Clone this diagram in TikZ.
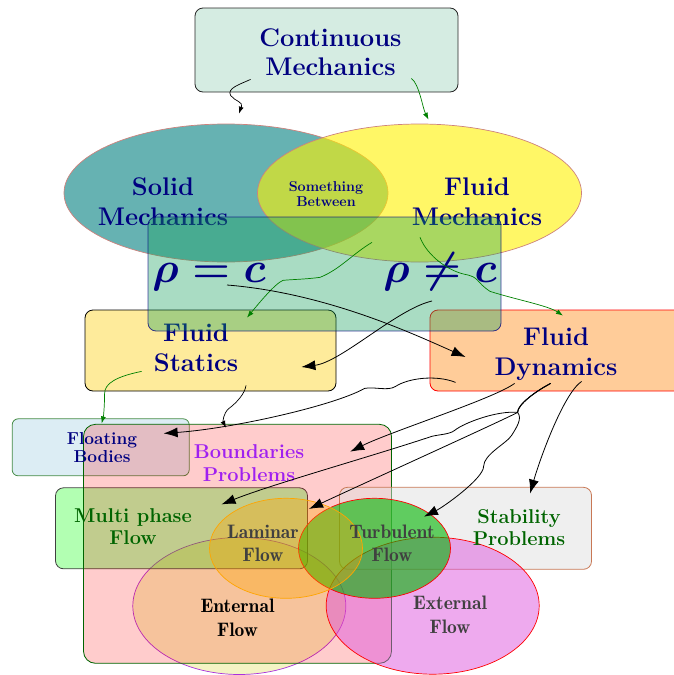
\RequirePackage{fix-cm}
\documentclass[tikz,border=0pt]{standalone}
\usetikzlibrary{shapes.geometric,arrows.meta}

\definecolor{navy}{rgb}{0,0,0.5}
\definecolor{cmfill}{RGB}{213,236,226}
\definecolor{rhofill}{RGB}{23,160,91}
\definecolor{statfill}{RGB}{254,235,155}
\definecolor{flofill}{RGB}{220,237,244}
\definecolor{floline}{RGB}{70,140,70}
\definecolor{ovalline}{RGB}{205,130,125}
\definecolor{stabline}{RGB}{200,120,85}
\definecolor{entfill}{RGB}{244,244,196}
\definecolor{entline}{RGB}{170,50,220}
\definecolor{extfill}{RGB}{221,85,221}
\definecolor{turbfill}{RGB}{0,180,0}
\definecolor{lamorange}{RGB}{255,165,0}
\definecolor{bndtext}{RGB}{160,32,240}
\definecolor{darkgreen}{RGB}{0,100,0}

\begin{document}
\begin{tikzpicture}[x=1pt,y=-1pt,>={Latex[length=14pt,width=10pt]},
  box/.style={draw, rounded corners=8pt, line width=0.8pt, inner sep=0pt},
  oval/.style={ellipse, draw, line width=0.7pt, inner sep=0pt},
  bigtxt/.style={align=center, inner sep=0pt, text=navy, font=\fontsize{25.5}{30}\selectfont\bfseries},
  midtxt/.style={align=center, inner sep=0pt, font=\fontsize{20}{22}\selectfont\bfseries},
  flowtxt/.style={align=center, inner sep=0pt, text=black!75, font=\fontsize{19.5}{23.5}\selectfont\fontseries{b}\selectfont},
  rho/.style={inner sep=0pt, text=navy, font=\fontsize{43}{50}\selectfont\boldmath},
  link/.style={line width=0.8pt, ->},
  twig/.style={line width=0.7pt, -{Latex[length=7pt,width=5pt]}}]
\useasboundingbox (0,0) rectangle (673,675);

% top
\node[box, fill=cmfill, draw=black!85, minimum width=263pt, minimum height=84pt] (cmbox) at (326.5,50) {};
\node[bigtxt, font=\fontsize{25.5}{28.5}\selectfont\bfseries] (cmtext) at (330.5,52) {Continuous\\Mechanics};

% solid and fluid
\node[oval, fill=teal!60, draw=ovalline, minimum width=324pt, minimum height=138pt] (solid) at (226,193) {};
\node[oval, fill=yellow, fill opacity=.6, draw=ovalline, minimum width=324pt, minimum height=138pt] (fluid) at (419.5,193) {};
\node[bigtxt] (solidtxt) at (163,202) {Solid\\Mechanics};
\node[bigtxt] (fluidtxt) at (477,202) {Fluid\\Mechanics};
\node[bigtxt, font=\fontsize{14.3}{14.5}\selectfont\bfseries] (between) at (326,194) {Something\\Between};

% statics and dynamics
\node[box, fill=statfill, draw=black, minimum width=251pt, minimum height=81pt] (statics) at (210.5,350.5) {};
\node[box, fill=orange!40, draw=red, minimum width=270pt, minimum height=81pt] (dynamics) at (565,350.5) {};
\node[bigtxt] (stattxt) at (196,348) {Fluid\\Statics};
\node[bigtxt] (dyntxt) at (556,354) {Fluid\\Dynamics};

% density
\node[box, fill=rhofill, fill opacity=.37, draw=navy, draw opacity=.75, minimum width=353pt, minimum height=114pt] (rhobox) at (324.5,274) {};
\node[rho, anchor=base] (rhoeq) at (209,282) {$\rho = c$};
\node[rho, anchor=base] (rhone) at (440,282) {$\rho \neq c$};

% lower part
\node[oval, fill=entfill, draw=entline, minimum width=213pt, minimum height=137pt] (enternal) at (239.3,606) {};
\node[box, rounded corners=6pt, fill=flofill, draw=floline, minimum width=177pt, minimum height=57pt] (floating) at (100.7,447.3) {};
\node[box, fill=green, fill opacity=.3, draw=black!75, minimum width=252pt, minimum height=81pt] (multi) at (181.5,528.3) {};
\node[box, rounded corners=12pt, fill=red, fill opacity=.2, draw=darkgreen, minimum width=308pt, minimum height=239pt] (boundary) at (237.5,543.8) {};
\node[box, fill=black!12, fill opacity=.5, draw=stabline, minimum width=252pt, minimum height=82pt] (stability) at (465.5,528.3) {};
\node[oval, fill=extfill, fill opacity=.5, draw=red, minimum width=213pt, minimum height=137pt] (external) at (432.7,605.7) {};
\node[oval, fill=turbfill, fill opacity=.6, draw=red, minimum width=152pt, minimum height=100pt] (turbulent) at (374.5,548.3) {};
\node[oval, fill=lamorange, fill opacity=.35, draw=lamorange, minimum width=153pt, minimum height=100pt] (laminar) at (286,548.3) {};

\node[midtxt, text=navy, font=\fontsize{17.3}{18}\selectfont\bfseries] (flotxt) at (102,447.5) {Floating\\Bodies};
\node[midtxt, text=bndtext, font=\fontsize{20}{23}\selectfont\bfseries] (bndtxt) at (249,463.6) {Boundaries\\Problems};
\node[midtxt, text=darkgreen] (multxt) at (133,527) {Multi phase\\Flow};
\node[midtxt, text=darkgreen, font=\fontsize{20}{21.5}\selectfont\bfseries] (stabtxt) at (519,527.5) {Stability\\Problems};
\node[flowtxt] (lamtxt) at (263,543.3) {Laminar\\Flow};
\node[flowtxt] (turbtxt) at (392,543.3) {Turbulent\\Flow};
\node[flowtxt, text=black] (entxt) at (237.5,617.8) {Enternal\\Flow};
\node[flowtxt] (extxt) at (450,614.7) {External\\Flow};

% arrows
\draw[twig] ([shift={(56,-13)}]cmbox.south west) .. controls +(-11,5) and +(-4,-7) .. ++(-20,16) .. controls +(4,6) and +(2,-6) .. ++(11,12) .. controls +(-1,3) and +(1,-3) .. ([shift={(13,-10)}]solid.north);
\draw[twig, green!50!black] ([shift={(-47,-14)}]cmbox.south east) .. controls +(8,6) and +(-6,-12) .. ([shift={(9,-4)}]fluid.north);
\draw[twig, green!50!black] ([shift={(-47.5,-20)}]fluid.south) .. controls +(-20,12) and +(20,-8) .. ++(-52,35) .. controls +(-15,2) and +(10,-1) .. ++(-37,3) .. controls +(-8,3) and +(10,-12) .. ([shift={(36.5,8)}]statics.north);
\draw[twig, green!50!black] ([shift={(0.5,-25)}]fluid.south) .. controls +(8,20) and +(-15,-3) .. ++(45,37) .. controls +(15,3) and +(-15,-10) .. ++(25,17) .. controls +(25,8) and +(-15,-10) .. ([shift={(-2,6)}]dynamics.north);
\draw[link] ([shift={(18,3)}]rhoeq.base) .. controls +(100,8) and +(-50,-22) .. ([shift={(36,6.5)}]dynamics.west);
\draw[link] ([shift={(-8,19)}]rhone.base) .. controls +(-35,8) and +(40,-5) .. ([shift={(-35,16.5)}]statics.east);
\draw[twig, green!50!black] ([shift={(57,-20)}]statics.south west) .. controls +(-25,5) and +(0,-10) .. ++(-37,22) .. controls +(0,10) and +(2,-8) .. ([shift={(1,5)}]floating.north);
\draw[twig] ([shift={(35.5,-6)}]statics.south) .. controls +(-1,8) and +(8,-6) .. ++(-17,23) .. controls +(-6,5) and +(-3,-6) .. ([shift={(-11.5,3.8)}]boundary.north);
\draw[link] ([shift={(26,-9)}]dynamics.south west) .. controls +(-20,-8) and +(12,-8) .. ++(-60,4) .. controls +(-8,5) and +(10,-2) .. ++(-31,2) .. controls +(-30,17) and +(70,-5) .. ([shift={(-26,15)}]floating.north east);
\draw[link] ([shift={(85,-8)}]dynamics.south west) .. controls +(-20,15) and +(40,-20) .. ([shift={(-41.7,27.8)}]boundary.north east);
\draw[link] ([shift={(121,-8)}]dynamics.south west) .. controls +(-15,8) and +(0,-8) .. ++(-33,29) .. controls +(-20,-2) and +(10,-8) .. ++(-63,18) .. controls +(-5,4) and +(8,-2) .. ++(-23,6) .. controls +(-60,20) and +(50,-20) .. ([shift={(40,17)}]multi.north);
\draw[link] ([shift={(121,-8)}]dynamics.south west) .. controls +(-15,8) and +(0,-8) .. ++(-33,29) .. controls +(-15,8) and +(60,-28) .. ([shift={(23,11)}]laminar.north);
\draw[link] ([shift={(121,-8)}]dynamics.south west) .. controls +(-15,8) and +(0,-8) .. ++(-33,29) .. controls +(5,6) and +(5,-8) .. ++(-6,23) .. controls +(-5,8) and +(0,-12) .. ++(-28,31) .. controls +(0,12) and +(20,-10) .. ([shift={(49.5,18.7)}]turbulent.north);
\draw[link] ([shift={(152,-10)}]dynamics.south west) .. controls +(-18,12) and +(10,-35) .. ([shift={(64.5,6.7)}]stability.north);
\end{tikzpicture}
\end{document}
